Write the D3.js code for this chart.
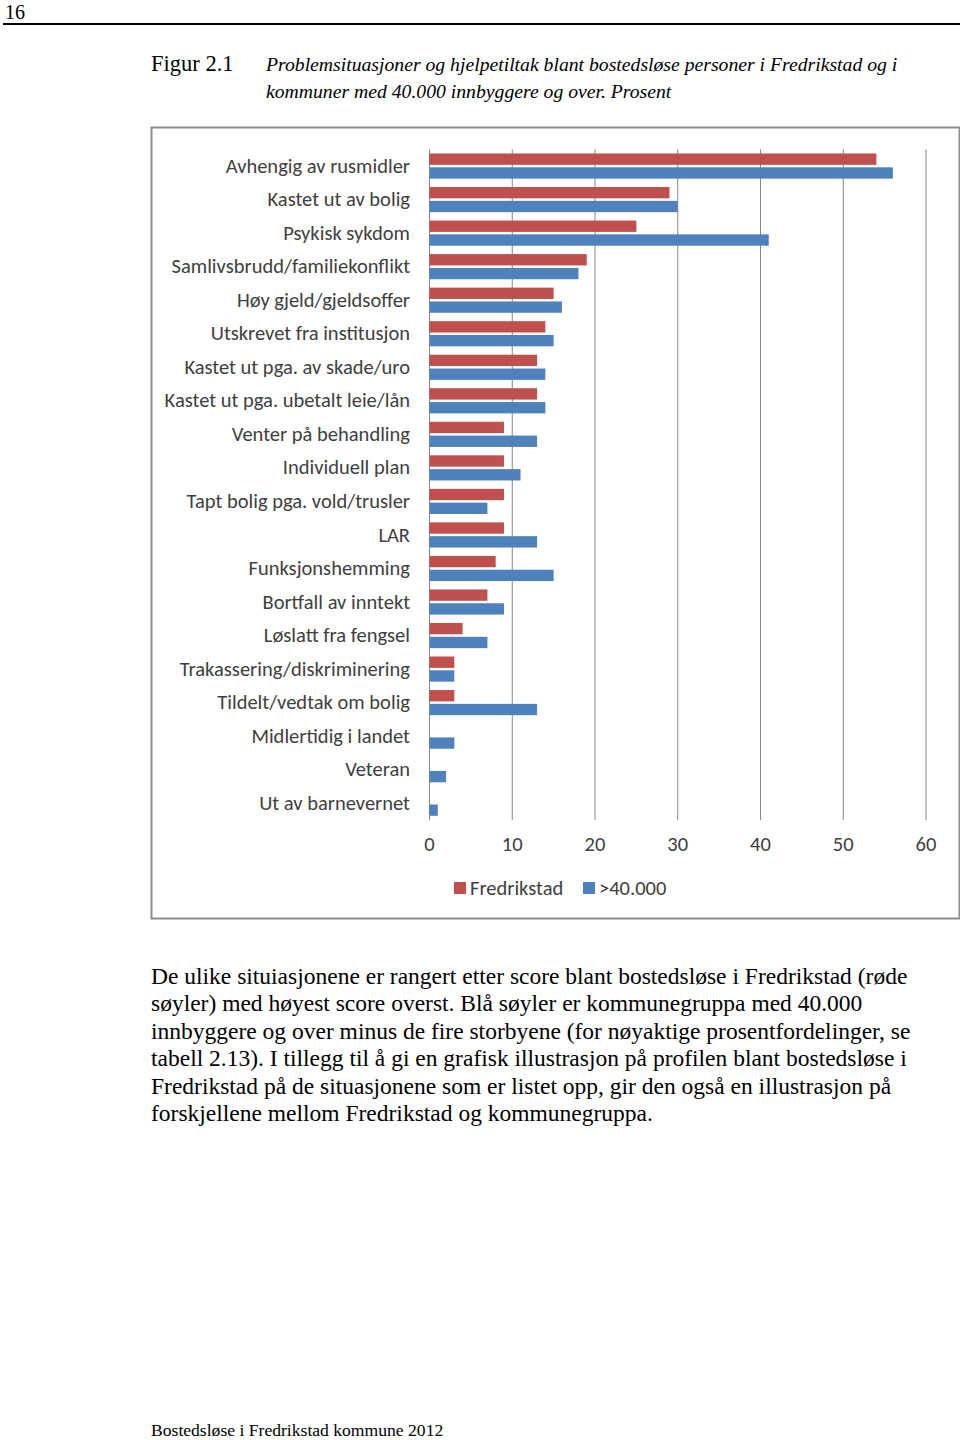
<!DOCTYPE html>
<html>
<head>
<meta charset="utf-8">
<script src="https://cdn.jsdelivr.net/npm/d3@7"></script>
<style>
  html, body { margin: 0; padding: 0; background: #fff; }
  svg { display: block; }
</style>
</head>
<body>
<svg id="page" width="960" height="1440"></svg>
<script>
const categories = [
  "Avhengig av rusmidler",
  "Kastet ut av bolig",
  "Psykisk sykdom",
  "Samlivsbrudd/familiekonflikt",
  "Høy gjeld/gjeldsoffer",
  "Utskrevet fra institusjon",
  "Kastet ut pga. av skade/uro",
  "Kastet ut pga. ubetalt leie/lån",
  "Venter på behandling",
  "Individuell plan",
  "Tapt bolig pga. vold/trusler",
  "LAR",
  "Funksjonshemming",
  "Bortfall av inntekt",
  "Løslatt fra fengsel",
  "Trakassering/diskriminering",
  "Tildelt/vedtak om bolig",
  "Midlertidig i landet",
  "Veteran",
  "Ut av barnevernet"
];
const fredrikstad = [54, 29, 25, 19, 15, 14, 13, 13, 9, 9, 9, 9, 8, 7, 4, 3, 3, 0, 0, 0];
const over40000   = [56, 30, 41, 18, 16, 15, 14, 14, 13, 11, 7, 13, 15, 9, 7, 3, 13, 3, 2, 1];
const seriesNames = ["Fredrikstad", ">40.000"];
const seriesColors = ["#C0504D", "#4F81BD"];
const xTicks = [0, 10, 20, 30, 40, 50, 60];

const pageNumber = "16";
const figureLabel = "Figur 2.1";
const titleLines = [
  "Problemsituasjoner og hjelpetiltak blant bostedsløse personer i Fredrikstad og i",
  "kommuner med 40.000 innbyggere og over. Prosent"
];
const bodyLines = [
  "De ulike situiasjonene er rangert etter score blant bostedsløse i Fredrikstad (røde",
  "søyler) med høyest score overst. Blå søyler er kommunegruppa med 40.000",
  "innbyggere og over minus de fire storbyene (for nøyaktige prosentfordelinger, se",
  "tabell 2.13). I tillegg til å gi en grafisk illustrasjon på profilen blant bostedsløse i",
  "Fredrikstad på de situasjonene som er listet opp, gir den også en illustrasjon på",
  "forskjellene mellom Fredrikstad og kommunegruppa."
];
const footer = "Bostedsløse i Fredrikstad kommune 2012";

const svg = d3.select("#page");
const serif = "'Liberation Serif', 'DejaVu Serif', serif";
const sans = "Carlito, 'Liberation Sans Narrow', Lato, sans-serif";
const chartFont = 20.5;

// Header
svg.append("text").attr("x", 5).attr("y", 19).attr("font-family", serif)
  .attr("font-size", 20).attr("fill", "#000").text(pageNumber);
svg.append("line").attr("x1", 3).attr("x2", 960).attr("y1", 24).attr("y2", 24)
  .attr("stroke", "#000").attr("stroke-width", 2);

// Caption
svg.append("text").attr("x", 151).attr("y", 71).attr("font-family", serif)
  .attr("font-size", 22.5).attr("fill", "#000").text(figureLabel);
titleLines.forEach((t, i) => {
  svg.append("text").attr("x", 266).attr("y", 71 + i * 27).attr("font-family", serif)
    .attr("font-style", "italic").attr("font-size", 19.7).attr("fill", "#000").text(t);
});

// Chart frame
svg.append("rect").attr("x", 151.5).attr("y", 127.5).attr("width", 808).attr("height", 791)
  .attr("fill", "#fff").attr("stroke", "#8c8c8c").attr("stroke-width", 2);

const x = d3.scaleLinear().domain([0, 60]).range([429, 925.5]);
const y = d3.scaleBand().domain(categories).range([149.3, 820])
  .paddingInner(0.25).paddingOuter(0.125);
const ySub = d3.scaleBand().domain(seriesNames).range([0, y.bandwidth()]).paddingInner(0.18);

// Gridlines
svg.append("g").selectAll("line").data(xTicks).join("line")
  .attr("x1", d => x(d) + 0.5).attr("x2", d => x(d) + 0.5)
  .attr("y1", 149.3).attr("y2", 820)
  .attr("stroke", "#868686").attr("stroke-width", 1);

// X axis labels
const xAxis = d3.axisBottom(x).tickValues(xTicks).tickSize(0).tickPadding(0);
const gx = svg.append("g").attr("transform", "translate(0,836)").call(xAxis);
gx.select(".domain").remove();
gx.selectAll("text").attr("font-family", sans).attr("font-size", chartFont).attr("fill", "#404040");

// Y axis labels
const yAxis = d3.axisLeft(y).tickSize(0).tickPadding(0);
const gy = svg.append("g").attr("transform", "translate(410,0)").call(yAxis);
gy.select(".domain").remove();
gy.selectAll("text").attr("font-family", sans).attr("font-size", chartFont).attr("fill", "#404040");

// Bars
const rows = categories.map((c, i) => ({ c, vals: [fredrikstad[i], over40000[i]] }));
const grp = svg.append("g").selectAll("g").data(rows).join("g")
  .attr("transform", d => `translate(0,${y(d.c)})`);
grp.selectAll("rect").data(d => d.vals.map((v, j) => ({ v, s: seriesNames[j], j })))
  .join("rect")
  .attr("x", x(0) + 0.5)
  .attr("y", d => ySub(d.s))
  .attr("width", d => Math.max(0, x(d.v) - x(0)))
  .attr("height", ySub.bandwidth())
  .attr("fill", d => seriesColors[d.j]);

// Legend
const legendItems = [{ name: seriesNames[0], x: 454, color: seriesColors[0] },
                     { name: seriesNames[1], x: 583, color: seriesColors[1] }];
const lg = svg.append("g").selectAll("g").data(legendItems).join("g")
  .attr("transform", d => `translate(${d.x},882)`);
lg.append("rect").attr("width", 12).attr("height", 12).attr("fill", d => d.color);
lg.append("text").attr("x", 16).attr("y", 6).attr("dy", "0.35em")
  .attr("font-family", sans).attr("font-size", chartFont).attr("fill", "#404040").text(d => d.name);

// Body text
bodyLines.forEach((t, i) => {
  svg.append("text").attr("x", 151).attr("y", 984 + i * 27.4).attr("font-family", serif)
    .attr("font-size", 23.5).attr("fill", "#000").text(t);
});

// Footer
svg.append("text").attr("x", 151).attr("y", 1436).attr("font-family", serif)
  .attr("font-size", 17.6).attr("fill", "#000").text(footer);
</script>
</body>
</html>
